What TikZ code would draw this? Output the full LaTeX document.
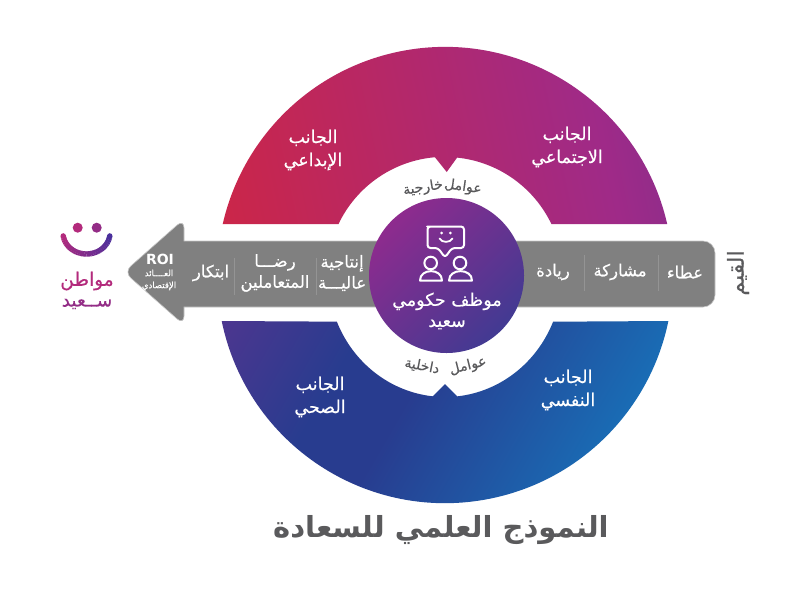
\documentclass[tikz,border=0pt]{standalone}
\usepackage{fontspec}
\setmainfont{DejaVu Sans}
\newfontface\ar[Script=Arabic,FakeBold=0.35]{DejaVu Sans}
\newfontface\arb[Script=Arabic]{DejaVu Sans Bold}
\TeXXeTstate=1
\definecolor{gbar}{HTML}{808080}
\definecolor{gtxt}{HTML}{5A5A5C}
\definecolor{cred}{HTML}{DC2430}
\definecolor{cmag}{HTML}{9F2A88}
\definecolor{cind}{HTML}{6F338F}
\definecolor{cpur}{HTML}{6A3190}
\definecolor{cnavy}{HTML}{283C8F}
\definecolor{cblue}{HTML}{1381C5}
\definecolor{cctrA}{HTML}{8E2B8E}
\definecolor{cctrB}{HTML}{423A92}
\definecolor{logoA}{HTML}{B32A7C}
\definecolor{logoB}{HTML}{4A2F9C}
\pgfdeclarehorizontalshading{upperband}{100bp}{color(0bp)=(cred); color(17.5bp)=(cred); color(62.9bp)=(cmag); color(77.7bp)=(cind); color(100bp)=(cind)}
\pgfdeclarehorizontalshading{lowerband}{100bp}{color(0bp)=(cpur); color(21.6bp)=(cpur); color(40.6bp)=(cnavy); color(46.8bp)=(cnavy); color(70.6bp)=(cblue); color(100bp)=(cblue)}
\newcommand{\AR}[1]{{\beginR #1\endR}}
\tikzset{
  x=1pt,y=-1pt,
  ink/.style={white,font=\ar\fontsize{17.5}{23}\selectfont,align=center,inner sep=0pt},
  barlab/.style={white,font=\ar\fontsize{16.5}{21}\selectfont,align=center,inner sep=0pt},
  ringlab/.style={gtxt,font=\ar\fontsize{14}{14}\selectfont,inner sep=0pt},
  seprule/.style={draw=black!42,line width=.7pt},
  icon/.style={draw=white,line width=2pt,line join=round,line cap=round}
}
\begin{document}
\begin{tikzpicture}
\useasboundingbox (0,0) rectangle (800,600);
\fill[white] (0,0) rectangle (800,600);
% upper half of the ring
\begin{scope}
 \clip (222.8,224) -- (338.5,224) arc[start angle=205.5,end angle=265.1,radius=118] -- (446.7,172) -- (457.1,157.6)
   arc[start angle=275.9,end angle=334.5,radius=118] -- (667.2,224) arc[start angle=-12.9,end angle=-167.1,radius=228] -- cycle;
 \shade[shading=upperband,shading angle=12] (145,-165) rectangle (745,435);
\end{scope}
% lower half of the ring
\begin{scope}
 \clip (553.1,321.7) arc[start angle=22.5,end angle=84,x radius=117,y radius=122] -- (445,384) -- (432.7,396.3)
   arc[start angle=96,end angle=157.5,x radius=117,y radius=122] -- (221.7,321) arc[start angle=168.4,end angle=11.6,radius=228] -- cycle;
 \shade[shading=lowerband,shading angle=-30] (145,110) rectangle (745,710);
\end{scope}
% arrow bar
\filldraw[fill=gbar,draw=black!22,line width=.6pt] (446,241) [rounded corners=12] -- (715,241) -- (715,307) [sharp corners] -- (446,307) -- (184,307) [rounded corners=9] -- (184,325) -- (124,272) -- (184,219) [sharp corners] -- (184,241) -- cycle;
\draw[seprule] (658,255) -- (658,291);
\draw[seprule] (584,255) -- (584,291);
\draw[seprule] (316,258) -- (316,295);
\draw[seprule] (234,258) -- (234,295);
% centre disc
\shade[left color=cctrA,right color=cctrB,shading angle=45] (446.5,275.5) circle[radius=77.5];
% bubble icon
\draw[icon,rounded corners=3] (430,226.5) -- (464,226.5) -- (464,248) -- (452,248) -- (445,257.5) -- (438,248) -- (427.5,248) -- (427.5,226.5) -- cycle;
\fill[white] (441.7,233) circle[radius=1.5] (450.3,233) circle[radius=1.5];
\draw[icon,line width=1.8pt] (439.5,238.5) .. controls (442,243) and (450,243) .. (452.5,238.5);
\draw[icon] (430.7,263) circle[radius=6.3];
\draw[icon] (420,280.5) .. controls (420,268) and (442,268) .. (442,280.5) -- cycle;
\draw[icon] (460,263) circle[radius=6.3];
\draw[icon] (449,280.5) .. controls (449,268) and (472,268) .. (472,280.5) -- cycle;
% logo
\fill[logoA] (77.7,227.7) circle[radius=5];
\fill[logoA!70!logoB] (96.7,227.7) circle[radius=5];
\foreach \i in {0,1,...,29}{
  \pgfmathsetmacro\mixv{100-\i*100/29}
  \pgfmathsetmacro\sa{172-\i*164/30}
  \pgfmathsetmacro\ea{\sa-164/30-0.6}
  \draw[line width=5.4pt,color=logoA!\mixv!logoB] ({86.5+23.5*cos(\sa)},{233+21*sin(\sa)}) arc[start angle=\sa,end angle=\ea,x radius=23.5,y radius=21];
}
\fill[logoA] ({86.5+23.5*cos(172)},{233+21*sin(172)}) circle[radius=2.7];
\fill[logoB] ({86.5+23.5*cos(8)},{233+21*sin(8)}) circle[radius=2.7];
% labels
\node[ink] (n1) at (313,150) {\AR{الجانب}\\\AR{الإبداعي}};
\node[ink] (n2) at (567,147) {\AR{الجانب}\\\AR{الاجتماعي}};
\node[ink] (n3) at (320,397) {\AR{الجانب}\\\AR{الصحي}};
\node[ink] (n4) at (568,390) {\AR{الجانب}\\\AR{النفسي}};
\node[ringlab,rotate=-8] (r1) at (463,187) {\AR{عوامل}};
\node[ringlab,rotate=9] (r2) at (423,188) {\AR{خارجية}};
\node[ringlab,rotate=14] (r3) at (468,366) {\AR{عوامل}};
\node[ringlab,rotate=-11] (r4) at (422,366) {\AR{داخلية}};
\node[barlab] (b1) at (685,272) {\AR{عطاء}};
\node[barlab] (b2) at (620,272) {\AR{مشاركة}};
\node[barlab] (b3) at (553,272) {\AR{ريادة}};
\node[barlab] (b4) at (342,273) {\AR{إنتاجية}\\\AR{عاليـــة}};
\node[barlab] (b5) at (275,273) {\AR{رضـــا}\\\AR{المتعاملين}};
\node[barlab] (b6) at (211,273) {\AR{ابتكار}};
\node[white,font=\bfseries\fontsize{14}{14}\selectfont,inner sep=0pt] (roi) at (160,259) {ROI};
\node[white,font=\ar\fontsize{8.5}{12}\selectfont,align=center,inner sep=0pt] (roi2) at (159,280) {\AR{العــــائد}\\\AR{الإقتصادي}};
\node[white,font=\ar\fontsize{17.5}{21}\selectfont,align=center,inner sep=0pt] (ctr) at (447,311) {\AR{موظف حكومي}\\\AR{سعيد}};
\node[gtxt,font=\ar\fontsize{22}{22}\selectfont,rotate=90,inner sep=0pt] (qiyam) at (738,273) {\AR{القيم}};
\node[logoA,font=\ar\fontsize{18.5}{18}\selectfont,inner sep=0pt] (m1) at (87,281) {\AR{مواطن}};
\node[logoA!70!logoB,font=\ar\fontsize{18.5}{18}\selectfont,inner sep=0pt] (m2) at (87,304) {\AR{ســعيد}};
\node[gtxt,font=\arb\fontsize{29}{29}\selectfont,inner sep=0pt] (title) at (441,530) {\AR{النموذج العلمي للسعادة}};
\end{tikzpicture}
\end{document}
